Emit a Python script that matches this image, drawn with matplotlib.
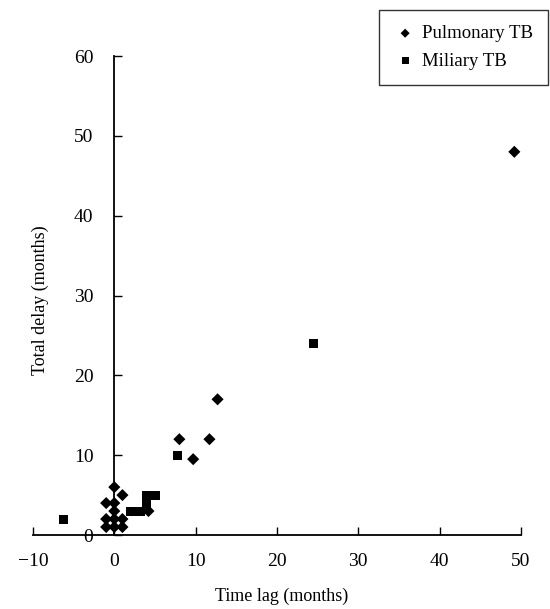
import numpy as np
import matplotlib
matplotlib.use("Agg")
import matplotlib.pyplot as plt

plt.rcParams['font.family'] = ['Liberation Serif', 'DejaVu Serif']

# Pulmonary TB (diamonds): time lag vs total delay, months
pulm_lag = [49.2, 12.7, 8.0, 11.7, 9.7, 0, 1, -1, 0, 0, -1, 0, 1, -1, 0, 1, 4.2]
pulm_delay = [48, 17, 12, 12, 9.5, 6, 5, 4, 4, 3, 2, 2, 2, 1, 1, 1, 3]

# Miliary TB (squares)
mil_lag = [24.5, 7.8, -6.3, 2, 2.6, 3.2, 4, 4.6, 5.1, 3.9]
mil_delay = [24, 10, 2, 3, 3, 3, 5, 5, 5, 4]

xticks = [-10, 0, 10, 20, 30, 40, 50]
yticks = [0, 10, 20, 30, 40, 50, 60]

fig = plt.figure(figsize=(5.5, 6.09), dpi=100)
ax = fig.add_axes([0.06, 0.1215, 0.887, 0.7865])

ax.scatter(pulm_lag, pulm_delay, marker='D', s=38, color='black',
           edgecolors='none', label='Pulmonary TB', zorder=3)
ax.scatter(mil_lag, mil_delay, marker='s', s=42, color='black',
           edgecolors='none', label='Miliary TB', zorder=3)

ax.set_xlim(-10, 50)
ax.set_ylim(0, 60)
ax.set_xticks(xticks)
ax.set_yticks(yticks)

ax.spines['top'].set_visible(False)
ax.spines['right'].set_visible(False)
ax.spines['left'].set_position(('data', 0))
ax.spines['bottom'].set_position(('data', 0))
ax.spines['left'].set_linewidth(1.3)
ax.spines['bottom'].set_linewidth(1.3)
ax.tick_params(axis='both', direction='in', length=6, width=1.0, labelsize=14)
ax.tick_params(axis='x', pad=13)
ax.tick_params(axis='y', pad=15)

fig.text(40 / 550, 1 - 300 / 609, 'Total delay (months)', rotation=90,
         ha='center', va='center', fontsize=13)
fig.text(282 / 550, 1 - 596 / 609, 'Time lag (months)',
         ha='center', va='center', fontsize=13)

leg = fig.legend(loc='upper right', bbox_to_anchor=(548 / 550, 1 - 10 / 609),
                 borderaxespad=0, frameon=True, fancybox=False, fontsize=13.5,
                 handletextpad=0.3, borderpad=0.8, labelspacing=0.55,
                 handlelength=1.2, markerscale=0.75)
leg.get_frame().set_edgecolor('black')
leg.get_frame().set_linewidth(1.0)

fig.savefig('out.png', dpi=100)
